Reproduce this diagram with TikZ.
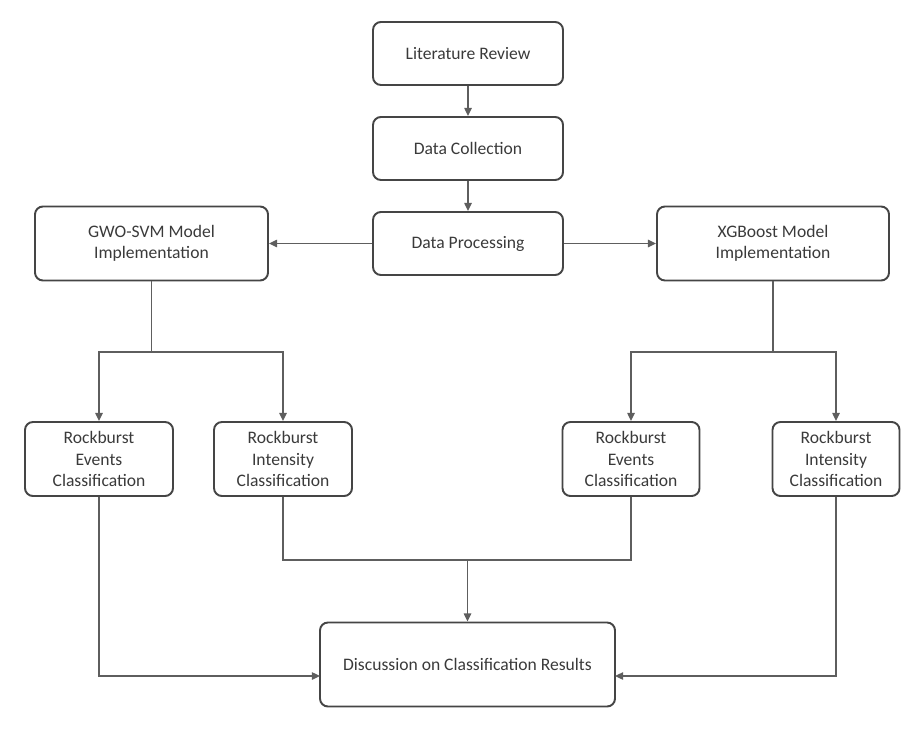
\documentclass[tikz,border=0pt]{standalone}
\usepackage{fontspec}
\setmainfont{Carlito}
\usetikzlibrary{arrows.meta}
\definecolor{boxline}{HTML}{454545}
\definecolor{connline}{HTML}{5E5E5E}
\definecolor{txtgray}{HTML}{3A3A3A}

\begin{document}
\begin{tikzpicture}[line width=0.8pt,>={Triangle[length=4.6pt,width=4.2pt]},
  stage/.style={draw=boxline,line width=1.1pt,rounded corners=4.5pt,align=center,
    text=txtgray,inner sep=0pt,font=\fontsize{10}{12.3}\selectfont},
  link/.style={draw=connline}]
\useasboundingbox (0,0) rectangle (18.4,14.6);
% main column
\node[stage,minimum width=3.8cm,minimum height=1.26cm] (lit) at (9.36,13.53) {Literature Review};
\node[stage,minimum width=3.8cm,minimum height=1.26cm] (coll) at (9.36,11.63) {Data Collection};
\node[stage,minimum width=3.8cm,minimum height=1.26cm] (proc) at (9.36,9.73) {Data Processing};
% the two models
\node[stage,minimum width=4.66cm,minimum height=1.48cm] (gwo) at (3.03,9.73) {GWO-SVM Model\\Implementation};
\node[stage,minimum width=4.64cm,minimum height=1.48cm] (xgb) at (15.46,9.73) {XGBoost Model\\Implementation};
% classification tasks
\node[stage,minimum width=2.96cm,minimum height=1.48cm] (gwoev) at (1.98,5.42) {Rockburst\\Events\\Classification};
\node[stage,minimum width=2.76cm,minimum height=1.48cm] (gwoint) at (5.66,5.42) {Rockburst\\Intensity\\Classification};
\node[stage,minimum width=2.74cm,minimum height=1.48cm] (xgbev) at (12.62,5.42) {Rockburst\\Events\\Classification};
\node[stage,minimum width=2.54cm,minimum height=1.48cm] (xgbint) at (16.72,5.42) {Rockburst\\Intensity\\Classification};
% results
\node[stage,minimum width=5.9cm,minimum height=1.68cm] (disc) at (9.35,1.31) {Discussion on Classification Results};
% helper points
\coordinate (gwofork) at (3.03,7.56);
\coordinate (xgbfork) at (15.46,7.56);
\coordinate (merge) at (9.35,3.4);
\coordinate (discL) at (6.40,1.08);
\coordinate (discR) at (12.30,1.08);
% connectors
\draw[link,->] (lit) -- (coll);
\draw[link,->] (coll) -- (proc);
\draw[link,->] (proc) -- (gwo);
\draw[link,->] (proc) -- (xgb);
\draw[link] (gwo) -- (gwofork);
\draw[link,->] (gwofork) -| (gwoev.north);
\draw[link,->] (gwofork) -| (gwoint.north);
\draw[link] (xgb) -- (xgbfork);
\draw[link,->] (xgbfork) -| (xgbev.north);
\draw[link,->] (xgbfork) -| (xgbint.north);
\draw[link] (gwoint.south) |- (merge);
\draw[link] (xgbev.south) |- (merge);
\draw[link,->] (merge) -- (disc);
\draw[link,->] (gwoev.south) |- (discL);
\draw[link,->] (xgbint.south) |- (discR);
\end{tikzpicture}
\end{document}
